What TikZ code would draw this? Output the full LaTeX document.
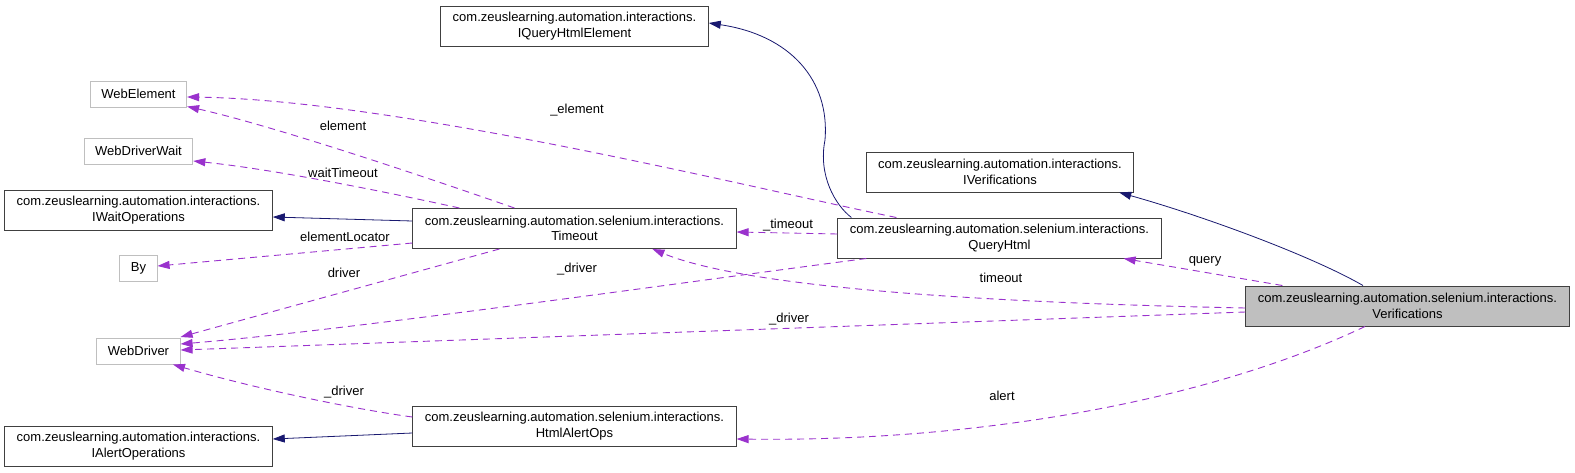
\documentclass[tikz,border=0pt]{standalone}
\usepackage{fontspec}
\setmainfont{Liberation Sans}
\usepackage{tikz}
\usetikzlibrary{arrows.meta,calc}

\definecolor{edgeblue}{HTML}{191970}
\definecolor{edgeorchid}{HTML}{9A32CD}
\definecolor{boxline}{HTML}{404040}
\definecolor{extline}{HTML}{BFBFBF}
\definecolor{selfgray}{HTML}{BFBFBF}

\begin{document}
\begin{tikzpicture}[x=1pt, y=-1pt,
  every node/.style={font=\fontsize{13pt}{15.5pt}\selectfont},
  cls/.style={draw=boxline, fill=white, line width=1pt, align=center,
              inner xsep=12pt, inner ysep=0pt, minimum height=40pt},
  ext/.style={draw=extline, fill=white, line width=1pt,
              inner xsep=11pt, inner ysep=0pt, minimum height=26pt},
  inherit/.style={draw=edgeblue, line width=0.8pt, -{Triangle[length=12pt,width=8pt]}},
  uses/.style={draw=edgeorchid, line width=0.9pt, dash pattern=on 7pt off 5pt,
               -{Triangle[length=12pt,width=8pt]}},
  lbl/.style={inner sep=0pt}]
  \path[fill=white, use as bounding box] (0,0) rectangle (1575,472);

  % classes
  \node[cls] (qhe) at (574.5,26) {com.zeuslearning.automation.interactions.\\IQueryHtmlElement};
  \node[cls] (iwait) at (138.5,210) {com.zeuslearning.automation.interactions.\\IWaitOperations};
  \node[cls] (ialert) at (138.5,446) {com.zeuslearning.automation.interactions.\\IAlertOperations};
  \node[cls] (timeout) at (574.5,228.5) {com.zeuslearning.automation.selenium.interactions.\\Timeout};
  \node[cls] (alertops) at (574.5,426) {com.zeuslearning.automation.selenium.interactions.\\HtmlAlertOps};
  \node[cls] (iverif) at (1000,172) {com.zeuslearning.automation.interactions.\\IVerifications};
  \node[cls] (query) at (999.5,238) {com.zeuslearning.automation.selenium.interactions.\\QueryHtml};
  \node[cls, fill=selfgray] (verif) at (1407.5,306) {com.zeuslearning.automation.selenium.interactions.\\Verifications};
  \foreach \n/\t/\y in {welem/WebElement/94, wdw/WebDriverWait/151, by/By/268.5, wdrv/WebDriver/351}
    \node[ext] (\n) at (138.5,\y) {\t};

  % inheritance
  \draw[inherit] ($(query.north west)+(14,0)$) .. controls (835,205) and (818,175) .. (825,140)
                 .. controls (830,80) and (790,35) .. (qhe.east |- 0,23);
  \draw[inherit] ($(verif.north)+(-44.5,0)$) .. controls (1310,255) and (1200,215) .. ($(iverif.south east)+(-15,0)$);
  \draw[inherit] (timeout.west |- 0,221) -- (iwait.east |- 0,217);
  \draw[inherit] (alertops.west |- 0,433) -- (ialert.east |- 0,439);

  % members
  \draw[uses] ($(timeout.north west)+(102,0)$) .. controls (420,175) and (270,125) .. ($(welem.south east)+(0,-1)$);
  \draw[uses] ($(query.north west)+(59,0)$) .. controls (760,190) and (400,100) .. ($(welem.east)+(0,3)$);
  \draw[uses] ($(timeout.north west)+(47,0)$) .. controls (400,195) and (280,170) .. ($(wdw.east)+(0,10)$);
  \draw[uses] (timeout.west |- 0,243) -- (by.east |- 0,266);
  \draw[uses] ($(timeout.south west)+(87,0)$) -- ($(wdrv.east)+(0,-14)$);
  \draw[uses] ($(query.south west)+(29,0)$) .. controls (700,280) and (350,330) .. ($(wdrv.east)+(0,-7)$);
  \draw[uses] (verif.west |- 0,312) -- ($(wdrv.east)+(0,-1)$);
  \draw[uses] (alertops.west |- 0,417) .. controls (360,410) and (260,390) .. ($(wdrv.south)+(34.5,0)$);
  \draw[uses] (query.west |- 0,234) -- (timeout.east |- 0,232);
  \draw[uses] (verif.west |- 0,308) .. controls (950,302) and (740,285) .. ($(timeout.south west)+(240,0)$);
  \draw[uses] ($(verif.north west)+(37,0)$) -- ($(query.south east)+(-38,0)$);
  \draw[uses] ($(verif.south)+(-42.5,0)$) .. controls (1210,400) and (980,442) .. (alertops.east |- 0,439);

  % member names
  \foreach \n/\t/\x/\y in {lelement/element/343/126, lqelement/\_element/577/110,
                           lwait/waitTimeout/343/173, lloc/elementLocator/345/237,
                           ldriver/driver/344/273, lqdriver/\_driver/577/269,
                           lvdriver/\_driver/789/319, ladriver/\_driver/344/392,
                           ltimeout/\_timeout/788/225, lvtimeout/timeout/1001/278,
                           lquery/query/1205/261, lalert/alert/1002/396}
    \node[lbl] (\n) at (\x,\y) {\t};
\end{tikzpicture}
\end{document}
